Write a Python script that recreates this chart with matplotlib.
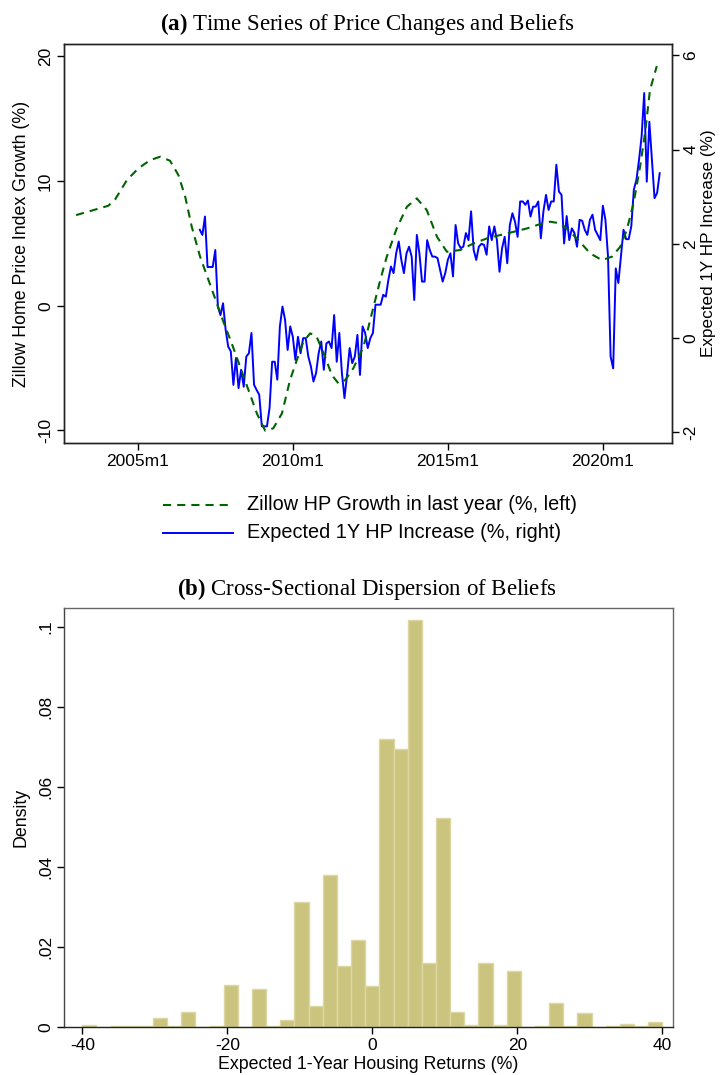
import numpy as np
import matplotlib
matplotlib.use("Agg")
import matplotlib.pyplot as plt
from matplotlib.lines import Line2D

plt.rcParams['font.family'] = ['Liberation Sans', 'DejaVu Sans']
plt.rcParams['mathtext.fontset'] = 'custom'
plt.rcParams['mathtext.bf'] = 'Liberation Serif:bold'
plt.rcParams['mathtext.rm'] = 'Liberation Serif'

# ---------------- Panel (a) data ----------------
# Zillow HP growth (left axis): read points (fractional year, %)
green_t = [2003.01, 2003.57, 2004.05, 2004.27, 2004.65, 2005.02, 2005.40, 2005.72,
           2006.04, 2006.31, 2006.53, 2006.74, 2007.01, 2007.28, 2007.55, 2007.76,
           2008.03, 2008.30, 2008.57, 2008.84, 2009.11, 2009.37, 2009.65, 2009.91,
           2010.13, 2010.34, 2010.56, 2010.77, 2011.04, 2011.26, 2011.47, 2011.69,
           2011.95, 2012.28, 2012.55, 2012.82, 2013.03, 2013.35, 2013.68, 2014.00,
           2014.32, 2014.65, 2014.97, 2015.40, 2015.83, 2016.26, 2016.69, 2017.12,
           2017.55, 2017.98, 2018.30, 2018.62, 2018.89, 2019.21, 2019.59, 2019.97,
           2020.29, 2020.56, 2020.77, 2020.99, 2021.20, 2021.36, 2021.52, 2021.74]
green_v = [7.27, 7.67, 8.02, 8.53, 10.08, 11.02, 11.68, 11.95,
           11.63, 10.48, 8.74, 6.34, 3.93, 2.06, 0.19, -1.28,
           -3.02, -4.89, -6.76, -8.63, -10.02, -9.83, -8.63, -5.96,
           -4.35, -2.89, -2.21, -2.49, -4.09, -5.56, -6.22, -5.96,
           -5.02, -3.29, -0.61, 2.06, 3.93, 6.20, 7.94, 8.61,
           7.67, 5.53, 4.33, 4.47, 5.00, 5.40, 5.67, 5.93,
           6.20, 6.55, 6.74, 6.61, 6.07, 5.27, 4.20, 3.66,
           3.93, 4.73, 6.07, 8.21, 11.15, 13.83, 17.30, 19.22]

# Expected 1Y HP increase (right axis), monthly from 2007m1
blue_start_year = 2007
blue_v = [2.30, 2.19, 2.58, 1.51, 1.51, 1.51, 1.87, 0.67, 0.49, 0.74, 0.18, -0.18,
          -0.28, -0.99, -0.42, -1.06, -0.67, -1.03, -0.39, -0.32, 0.11, -0.99, -1.10, -1.20,
          -1.87, -1.87, -1.87, -1.48, -0.50, -0.50, -0.88, 0.25, 0.67, 0.39, -0.25, 0.25,
          0.03, -0.46, 0.03, -0.32, 0.00, 0.00, -0.39, -0.60, -0.92, -0.74, -0.32, -0.07,
          -0.67, -0.11, -0.07, -0.21, 0.49, -0.50, 0.11, -0.74, -1.27, -0.78, -0.21, -0.53,
          -0.39, 0.07, -0.78, 0.25, 0.11, -0.21, 0.00, 0.11, 0.71, 0.71, 0.71, 0.92,
          0.88, 1.24, 1.52, 1.38, 1.80, 2.05, 1.66, 1.38, 1.80, 1.94, 1.73, 0.81,
          2.19, 1.80, 1.20, 1.20, 2.08, 1.87, 1.73, 1.73, 1.70, 1.45, 1.20, 1.38,
          1.66, 1.80, 1.31, 2.40, 2.01, 1.91, 1.94, 2.23, 2.08, 2.69, 1.87, 1.66,
          1.94, 2.00, 1.98, 1.77, 2.37, 2.08, 2.37, 2.08, 1.41, 1.91, 2.15, 1.59,
          2.40, 2.65, 2.47, 2.15, 2.90, 2.90, 2.83, 2.92, 2.58, 2.79, 2.79, 2.90,
          2.12, 2.69, 3.04, 2.72, 2.90, 2.90, 3.68, 3.11, 3.04, 2.01, 2.59, 2.08,
          2.33, 2.23, 1.94, 2.51, 2.49, 2.30, 2.19, 2.51, 2.62, 2.30, 2.19, 2.08,
          2.81, 2.51, 1.73, -0.39, -0.64, 1.48, 1.17, 1.73, 2.30, 2.10, 2.10, 2.37,
          3.15, 3.36, 3.78, 4.28, 5.20, 3.32, 4.59, 3.78, 2.97, 3.08, 3.50]

x_ticks_years = [2005, 2010, 2015, 2020]
x_tick_labels = ["2005m1", "2010m1", "2015m1", "2020m1"]
left_ticks = [-10, 0, 10, 20]
right_ticks = [-2, 0, 2, 4, 6]
legend_labels = ["Zillow HP Growth in last year (%, left)",
                 "Expected 1Y HP Increase (%, right)"]

# ---------------- Panel (b) data ----------------
hist_lo, hist_hi, hist_nbins = -40, 40, 41
hist_density = [0.0006, 0.0, 0.0002, 0.0002, 0.0002, 0.0023, 0.0002, 0.0037, 0.0, 0.0002,
                0.0105, 0.0, 0.0095, 0.0003, 0.0017, 0.0312, 0.0052, 0.0379, 0.0152, 0.0217,
                0.0102, 0.0719, 0.0694, 0.1018, 0.0160, 0.0522, 0.0037, 0.0005, 0.0160, 0.0005,
                0.0141, 0.0, 0.0002, 0.0060, 0.0002, 0.0035, 0.0, 0.0002, 0.0007, 0.0002,
                0.0013]
hist_xticks = [-40, -20, 0, 20, 40]
hist_yticks = [0, 0.02, 0.04, 0.06, 0.08, 0.1]
hist_ytick_labels = ["0", ".02", ".04", ".06", ".08", ".1"]

GREEN = '#006400'
BLUE = '#0000ff'
BAR = '#cbc47f'
BAR_EDGE = '#dcd7a3'
DASH = (3.9, 2.9)

W, H = 721, 1075
fig = plt.figure(figsize=(W / 100, H / 100), dpi=100)

def frac(l, t, r, b):
    return [l / W, 1 - b / H, (r - l) / W, (b - t) / H]

LBL = 12.8
TCK = 12.5
TITLE = 16.5

# ---- Panel (a)
ax = fig.add_axes(frac(64, 44, 672.3, 443.3))
ax2 = ax.twinx()
ax.plot(green_t, green_v, color=GREEN, lw=1.5, dashes=DASH, zorder=3)
blue_t = blue_start_year + np.arange(len(blue_v)) / 12.0
ax2.plot(blue_t, blue_v, color=BLUE, lw=1.4, zorder=2)
ax.set_zorder(ax2.get_zorder() + 1)
ax.patch.set_visible(False)

ax.set_xlim(2002.62, 2022.24)
ax.set_ylim(-11.03, 20.99)
ax2.set_ylim(-2.23, 6.24)
ax.set_xticks(x_ticks_years)
ax.set_xticklabels(x_tick_labels)
ax.set_yticks(left_ticks)
ax.set_yticklabels([str(v) for v in left_ticks], rotation=90, va='center')
ax2.set_yticks(right_ticks)
ax2.set_yticklabels([str(v) for v in right_ticks], rotation=90, va='center')
for a in (ax, ax2):
    a.tick_params(length=5, width=1, labelsize=TCK, pad=3)
    for s in a.spines.values():
        s.set_linewidth(1.0)
        s.set_color('#222222')
ax.set_ylabel("Zillow Home Price Index Growth (%)", fontsize=LBL, labelpad=6)
ax2.set_ylabel("Expected 1Y HP Increase (%)", fontsize=12.3, rotation=90, labelpad=2)

fig.text(367 / W, 1 - 24 / H, r'$\mathbf{(a)}$ Time Series of Price Changes and Beliefs',
         ha='center', va='center', fontsize=TITLE, family='Liberation Serif')

# legend (drawn as figure artists to match the spacing of the original)
leg_styles = [dict(color=GREEN, lw=1.5, dashes=DASH), dict(color=BLUE, lw=1.4)]
for row_y, lab, sty in zip([505, 532.7], legend_labels, leg_styles):
    yy = 1 - row_y / H
    fig.add_artist(Line2D([163.3 / W, 233.3 / W], [yy, yy], transform=fig.transFigure, **sty))
    fig.text(246.7 / W, yy, lab, ha='left', va='center', fontsize=14.3)

# ---- Panel (b)
bx = fig.add_axes(frac(64, 608.3, 672.7, 1027.3))
edges = np.linspace(hist_lo, hist_hi, hist_nbins + 1)
bx.bar(edges[:-1], hist_density, width=np.diff(edges), align='edge',
       color=BAR, edgecolor=BAR_EDGE, linewidth=1.0)
bx.set_xlim(-42.52, 41.43)
bx.set_ylim(0, 0.1046)
bx.set_xticks(hist_xticks)
bx.set_xticklabels([str(v) for v in hist_xticks])
bx.set_yticks(hist_yticks)
bx.set_yticklabels(hist_ytick_labels, rotation=90, va='center')
bx.tick_params(length=5, width=1, labelsize=TCK, pad=3)
for s in bx.spines.values():
    s.set_linewidth(1.0)
    s.set_color('#666666')
bx.spines['bottom'].set_color('#222222')
bx.spines['left'].set_color('#444444')
bx.set_xlabel("Expected 1-Year Housing Returns (%)", fontsize=LBL, labelpad=2)
bx.set_ylabel("Density", fontsize=LBL, labelpad=6)

fig.text(367 / W, 1 - 589 / H, r'$\mathbf{(b)}$ Cross-Sectional Dispersion of Beliefs',
         ha='center', va='center', fontsize=TITLE, family='Liberation Serif')

fig.savefig("out.png", dpi=100)
